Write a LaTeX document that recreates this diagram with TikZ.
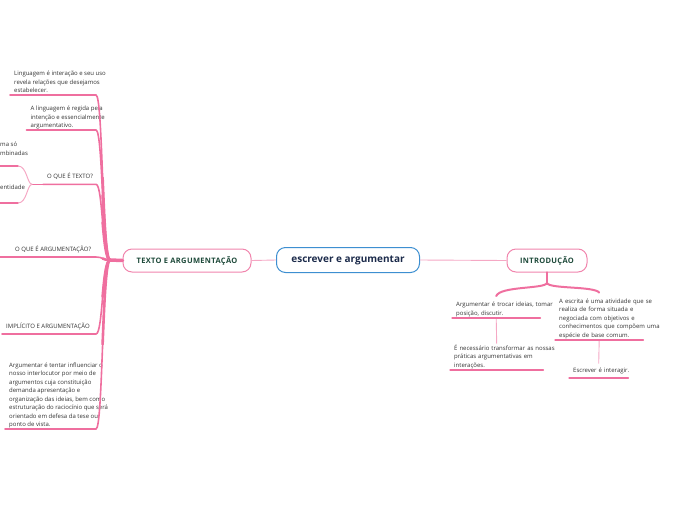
\documentclass[tikz,border=0pt]{standalone}
\usepackage{fontspec}
\setmainfont{Open Sans}
\newfontfamily\topicofonte[LetterSpace=4.5]{Open Sans}
\usetikzlibrary{positioning,calc}
\definecolor{rosa}{HTML}{EF6F9F}
\definecolor{rosaclaro}{HTML}{F5A8C4}
\definecolor{azul}{HTML}{3D8FD1}
\definecolor{verde}{HTML}{1E4A3A}
\definecolor{marinho}{HTML}{1C2B4B}
\definecolor{tinta}{HTML}{333333}
\tikzset{
  central/.style={draw=azul, line width=1pt, rounded corners=9pt, fill=white,
    minimum width=143pt, minimum height=25pt,
    font=\fontsize{10}{12}\selectfont\bfseries, text=marinho},
  topico/.style={draw=rosa!85, line width=1pt, rounded corners=9pt, fill=white,
    minimum height=23pt, font=\topicofonte\fontsize{7.5}{9}\selectfont\bfseries, text=verde},
  nota/.style={anchor=south west, align=left, inner xsep=4pt, inner ysep=1pt,
    font=\fontsize{6}{8.5}\selectfont, text=tinta},
  folha/.style={nota, text depth=1.3pt},
  titulo/.style={folha, inner ysep=4pt},
  ramo/.style={draw=rosa, line width=1.6pt, line cap=round},
  fio/.style={draw=rosaclaro, line width=0.9pt},
  sublinha/.style={draw=rosa, line width=1.3pt, line cap=round},
}
\begin{document}
\begin{tikzpicture}[x=1pt, y=-1pt]
  \useasboundingbox (0,0) rectangle (696,520);

  \node[central] (raiz) at (348,260) {escrever e argumentar};
  \node[topico, minimum width=128pt] (texto) at (187,260.5) {TEXTO E ARGUMENTAÇÃO};
  \node[topico, minimum width=80pt] (intro) at (547,260.5) {INTRODUÇÃO};

  \draw[fio] (texto.east) -- (raiz.west);
  \draw[fio] (raiz.east) -- (intro.west);

  % lado esquerdo
  \node[folha] (lingua) at (10,95) {Linguagem é interação e seu uso\\revela relações que desejamos\\estabelecer.};
  \node[folha] (regida) at (26.5,130) {A linguagem é regida pela\\intenção e essencialmente\\argumentativo.};
  \node[titulo] (oqtexto) at (43,184.3) {O QUE É TEXTO?};
  \node[titulo] (oqarg) at (11,257) {O QUE É ARGUMENTAÇÃO?};
  \node[titulo] (implicito) at (2,334) {IMPLÍCITO E ARGUMENTAÇÃO};
  \node[folha] (tentar) at (5,429) {Argumentar é tentar influenciar o\\nosso interlocutor por meio de\\argumentos cuja constituição\\demanda apresentação e\\organização das ideias, bem como\\estruturação do raciocínio que será\\orientado em defesa da tese ou\\ponto de vista.};

  \coordinate (hub) at (110,260);
  \draw[ramo, line width=3.5pt] (texto.west) -- (hub);
  \foreach \n/\y in {lingua/95, regida/130, oqtexto/184.3, oqarg/257, implicito/334, tentar/429} {
    \draw[ramo] (hub) .. controls (102,260) and (103,\y) .. (96,\y) -- (\n.south west);
    \draw[ramo, line width=2.6pt] (hub) .. controls (106,260) and (104.25,{(780+\y)/4}) .. (102.6,{130+\y/2});
  }
  \draw[ramo] (oqarg.south west) -- ++(-11,0);

  % sub-ramos de O QUE E TEXTO?
  \coordinate (tj) at (32,184.3);
  \coordinate (fimsup) at (0,166);
  \coordinate (fiminf) at (0,203);
  \draw[ramo] (oqtexto.south west) -- (tj);
  \draw[ramo, draw=rosaclaro, line width=1pt] (tj) .. controls (27,184) and (27,166) .. (18,166);
  \draw[ramo, draw=rosaclaro, line width=1pt] (tj) .. controls (27,184.6) and (27,203) .. (18,203);
  \draw[sublinha] (18,166) -- (fimsup);
  \draw[sublinha] (18,203) -- (fiminf);
  \node[folha, inner xsep=0pt] (forma) at (0,157.5) {ma só\\mbinadas};
  \node[folha, inner xsep=0pt] (identidade) at (0,192) {entidade};

  % lado direito
  \node[nota, text width=80pt] (troca) at (452,318) {\mbox{Argumentar é trocar ideias, tomar}\\\mbox{posição, discutir.}};
  \node[nota, text width=85pt] (necess) at (450,370) {\mbox{É necessário transformar as nossas}\\\mbox{práticas argumentativas em}\\\mbox{interações.}};
  \node[nota, text width=80pt] (escrita) at (555,340) {\mbox{A escrita é uma atividade que se}\\\mbox{realiza de forma situada e}\\\mbox{negociada com objetivos e}\\\mbox{conhecimentos que compõem uma}\\\mbox{espécie de base comum.}};
  \node[nota, inner ysep=4pt, text width=51pt] (interagir) at (569,378) {\mbox{Escrever é interagir.}};

  \coordinate (ij) at (547,283);
  \draw[ramo, line width=2.6pt] (intro.south) -- (ij);
  \draw[ramo, line width=2pt] (ij) .. controls (545,289) and (500,286) .. ($(troca.north)+(0,-5)$);
  \draw[ramo, line width=2pt] (ij) .. controls (549,289) and (594,286) .. ($(escrita.north)+(0,-5)$);
  \draw[fio] (troca.south) -- (necess.north);
  \draw[fio] (escrita.south) -- (interagir.north);
  \foreach \n in {troca,necess,escrita,interagir}
    \draw[sublinha] (\n.south west) -- (\n.south east);
\end{tikzpicture}
\end{document}
